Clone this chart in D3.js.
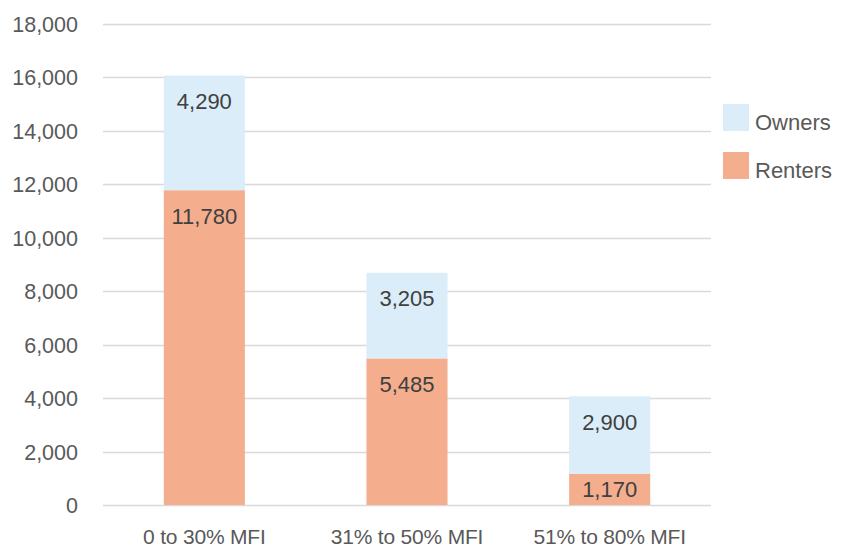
<!DOCTYPE html>
<html>
<head>
<meta charset="utf-8">
<script src="https://cdn.jsdelivr.net/npm/d3@7"></script>
<style>
  html, body { margin: 0; padding: 0; background: #fff; }
  svg { display: block; font-family: "Liberation Sans", Arial, sans-serif; }
</style>
</head>
<body>
<svg id="chart" width="841" height="549"></svg>
<script>
// Households by income band, split by tenure
const categories = ["0 to 30% MFI", "31% to 50% MFI", "51% to 80% MFI"];
const renters = [11780, 5485, 1170];
const owners = [4290, 3205, 2900];
const seriesNames = ["Renters", "Owners"];
const yTicks = [0, 2000, 4000, 6000, 8000, 10000, 12000, 14000, 16000, 18000];

const colors = { Renters: "#F4AE8E", Owners: "#DAEDF9" };

const svg = d3.select("#chart");
const plotLeft = 103, plotRight = 711;
const plotTop = 24, plotBottom = 505;

const rows = categories.map((c, i) => ({ category: c, Renters: renters[i], Owners: owners[i] }));
const stacked = d3.stack().keys(seriesNames)(rows);

const x = d3.scaleBand()
  .domain(categories)
  .range([plotLeft, plotRight])
  .paddingInner(0.6)
  .paddingOuter(0.3);

const y = d3.scaleLinear()
  .domain([0, 18000])
  .range([plotBottom, plotTop]);

// Horizontal gridlines
svg.append("g")
  .selectAll("line")
  .data(yTicks)
  .join("line")
  .attr("x1", plotLeft)
  .attr("x2", plotRight)
  .attr("y1", d => Math.round(y(d)) + 0.5)
  .attr("y2", d => Math.round(y(d)) + 0.5)
  .attr("stroke", "#D9D9D9")
  .attr("stroke-width", 1.3);

// Y axis labels
const yAxis = d3.axisLeft(y).tickValues(yTicks).tickFormat(d3.format(",")).tickSize(0).tickPadding(0);
const gy = svg.append("g").attr("transform", "translate(78,0)").call(yAxis);
gy.select(".domain").remove();
gy.selectAll("text")
  .attr("fill", "#595959")
  .style("font-size", "21.5px")
  .style("font-family", "'Liberation Sans', Arial, sans-serif")
  .attr("dy", "0.35em");

// X axis labels
const xAxis = d3.axisBottom(x).tickSize(0).tickPadding(0);
const gx = svg.append("g").attr("transform", "translate(0,537)").call(xAxis);
gx.select(".domain").remove();
gx.selectAll("text")
  .attr("fill", "#595959")
  .attr("dy", "0.35em")
  .style("font-size", "21px")
  .style("letter-spacing", "-0.2px")
  .style("font-family", "'Liberation Sans', Arial, sans-serif");

// Stacked bars
const layers = svg.append("g")
  .selectAll("g")
  .data(stacked)
  .join("g")
  .attr("fill", d => colors[d.key]);

layers.selectAll("rect")
  .data(d => d.map(s => ({ key: d.key, s })))
  .join("rect")
  .attr("x", d => x(d.s.data.category))
  .attr("width", x.bandwidth())
  .attr("y", d => y(d.s[1]))
  .attr("height", d => y(d.s[0]) - y(d.s[1]));

// Value labels near the inside end of each segment
const labels = [];
stacked.forEach(layer => {
  layer.forEach(s => {
    const top = y(s[1]), bottom = y(s[0]);
    const h = bottom - top;
    const cy = h >= 52 ? top + 26 : (top + bottom) / 2;
    labels.push({ x: x(s.data.category) + x.bandwidth() / 2, y: cy, v: s[1] - s[0] });
  });
});

svg.append("g")
  .selectAll("text")
  .data(labels)
  .join("text")
  .attr("x", d => d.x)
  .attr("y", d => d.y)
  .attr("dy", "0.35em")
  .attr("text-anchor", "middle")
  .attr("fill", "#404040")
  .style("font-size", "22px")
  .text(d => d3.format(",")(d.v));

// Legend
const legendItems = ["Owners", "Renters"];
const lg = svg.append("g")
  .selectAll("g")
  .data(legendItems)
  .join("g")
  .attr("transform", (d, i) => `translate(723,${104 + i * 48})`);

lg.append("rect")
  .attr("width", 26)
  .attr("height", 27)
  .attr("fill", d => colors[d]);

lg.append("text")
  .attr("x", 32)
  .attr("y", 18)
  .attr("dy", "0.35em")
  .attr("fill", "#595959")
  .style("font-size", "22px")
  .text(d => d);
</script>
</body>
</html>
